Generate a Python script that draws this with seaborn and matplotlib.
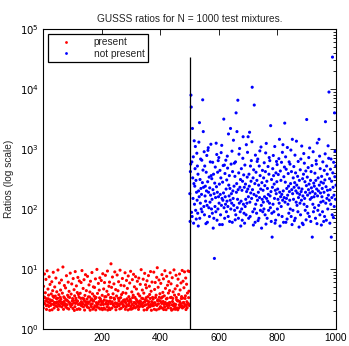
import numpy as np
import pandas as pd
import matplotlib
matplotlib.use("Agg")
import matplotlib.pyplot as plt
import seaborn as sns
from matplotlib.ticker import FixedLocator, LogLocator, NullFormatter, FixedFormatter
from matplotlib.lines import Line2D

# ---------------- data ----------------
present_ratios = [
    2.23, 5.14, 2.67, 3.41, 8.25, 2.64, 3.31, 4.02, 2.93, 6.71, 2.45, 2.12, 3.18, 9.34, 2.52, 2.86, 4.63, 3.19, 3.67, 2.38, 7.42, 2.74, 2.05, 5.53, 3.06,
    2.47, 2.96, 3.84, 2.61, 6.13, 2.09, 2.97, 4.35, 3.53, 8.81, 2.56, 3.37, 2.24, 2.78, 5.02, 2.74, 3.54, 2.43, 7.06, 2.68, 3.21, 4.17, 2.83, 2.36, 3.25,
    9.62, 2.11, 2.58, 3.73, 2.87, 5.86, 2.41, 2.95, 3.38, 4.46, 3.14, 2.66, 6.54, 2.34, 2.78, 3.96, 2.72, 10.8, 2.51, 2.13, 3.43, 2.87, 5.31, 3.26, 2.49,
    2.63, 4.84, 2.32, 3.06, 7.73, 3.03, 2.54, 2.22, 3.65, 2.91, 6.04, 3.44, 2.15, 4.24, 2.76, 3.36, 2.58, 8.53, 2.62, 2.37, 3.82, 2.60, 5.64, 2.55, 2.94,
    3.22, 2.20, 6.93, 2.96, 2.73, 4.52, 2.04, 3.57, 2.35, 9.05, 2.67, 3.25, 3.04, 5.23, 2.84, 2.12, 4.05, 2.92, 7.24, 2.57, 3.76, 2.17, 3.39, 6.32, 2.65,
    2.13, 3.94, 2.53, 3.24, 5.95, 2.85, 2.43, 9.42, 2.69, 3.26, 2.64, 4.74, 2.34, 3.19, 6.63, 2.96, 2.07, 3.63, 2.52, 8.04, 2.83, 2.77, 4.36, 2.46, 3.15,
    2.32, 7.54, 2.81, 2.67, 3.44, 2.25, 5.43, 2.82, 3.41, 4.14, 2.06, 6.25, 2.55, 3.03, 2.36, 3.18, 8.73, 2.63, 3.85, 2.14, 2.97, 5.04, 2.92, 2.27, 3.53,
    4.93, 2.44, 3.22, 6.84, 2.08, 3.35, 2.75, 2.33, 9.84, 2.54, 3.92, 2.62, 2.66, 5.75, 2.26, 2.86, 4.45, 3.31, 7.13, 2.15, 3.16, 2.53, 2.92, 6.43, 2.21,
    2.74, 3.64, 2.10, 8.34, 2.87, 2.56, 4.65, 2.24, 3.05, 5.94, 3.45, 2.14, 7.84, 2.62, 3.45, 2.70, 2.94, 4.25, 2.35, 9.24, 2.07, 2.57, 3.74, 2.85, 5.15,
    2.25, 6.05, 2.93, 2.11, 3.34, 2.65, 12.2, 3.32, 4.94, 2.23, 2.84, 7.35, 2.63, 3.86, 2.54, 2.44, 5.65, 3.27, 3.13, 8.94, 2.34, 2.73, 4.54, 2.09, 2.64,
    3.55, 2.35, 7.94, 2.65, 2.55, 4.34, 3.24, 6.14, 2.93, 2.45, 3.24, 2.16, 9.55, 2.65, 3.33, 5.35, 2.21, 3.75, 2.83, 2.72, 6.95, 2.56, 4.04, 2.36, 3.02,
    2.44, 5.25, 2.86, 3.06, 8.65, 2.13, 2.75, 3.95, 2.34, 6.45, 2.53, 3.19, 4.75, 2.95, 2.08, 7.65, 2.46, 3.46, 2.66, 2.93, 5.84, 2.15, 3.14, 9.15, 2.37,
    2.86, 2.14, 4.15, 2.57, 6.65, 3.34, 2.22, 3.66, 8.15, 2.44, 2.76, 5.05, 2.76, 3.36, 2.25, 7.45, 2.64, 3.12, 4.64, 2.35, 2.96, 6.24, 2.43, 2.81, 3.84,
    2.12, 7.05, 2.66, 2.34, 3.56, 2.94, 5.55, 2.84, 2.45, 9.75, 2.61, 3.26, 2.55, 4.46, 2.36, 3.20, 6.76, 2.76, 3.96, 2.07, 2.46, 8.46, 2.85, 3.06, 5.46,
    2.54, 3.32, 4.86, 2.10, 6.36, 2.96, 2.24, 3.46, 2.64, 7.76, 2.46, 2.84, 5.16, 3.76, 2.34, 3.23, 9.06, 2.56, 4.26, 2.05, 2.86, 6.06, 2.44, 3.36, 2.66,
    3.16, 2.45, 8.86, 2.72, 2.13, 4.56, 2.74, 5.96, 3.35, 2.55, 3.66, 2.08, 7.26, 2.47, 10.5, 2.96, 3.07, 4.96, 2.63, 2.16, 6.56, 3.37, 2.97, 3.87, 2.24,
    2.36, 5.76, 2.84, 3.27, 2.67, 8.06, 2.23, 3.43, 4.07, 2.87, 6.86, 2.11, 2.57, 3.57, 2.33, 9.36, 2.77, 4.76, 2.64, 2.10, 3.17, 7.56, 2.46, 3.25, 5.36,
    2.65, 2.26, 3.97, 6.16, 2.72, 2.47, 4.37, 2.76, 8.66, 3.34, 2.21, 5.66, 3.37, 2.06, 2.54, 7.16, 2.87, 3.23, 4.16, 2.45, 2.15, 9.66, 2.63, 3.67, 2.36,
    4.66, 2.13, 2.56, 7.86, 3.35, 3.07, 2.24, 5.26, 2.94, 2.09, 6.77, 2.95, 3.77, 2.25, 2.53, 8.26, 2.86, 4.47, 2.37, 2.66, 5.86, 3.22, 3.47, 2.45, 9.46,
    2.24, 3.27, 6.26, 2.74, 2.77, 4.87, 2.35, 8.96, 2.56, 3.23, 3.57, 7.07, 2.11, 2.46, 5.57, 2.85, 2.26, 3.97, 2.65, 9.26, 2.64, 3.33, 4.27, 2.47, 9.06,
]

not_present_ratios = [
    180, 62, 420, 560, 7900, 5000, 88, 610, 75, 2200, 330, 150, 740, 58, 265, 1370, 120, 240, 470, 1100, 95, 300, 68, 190, 850,
    140, 520, 85, 380, 52, 200, 1300, 160, 2750, 70, 310, 125, 680, 220, 100, 175, 650, 90, 275, 6600, 445, 1950, 230, 110, 900,
    80, 520, 165, 240, 135, 57, 410, 200, 780, 115, 60, 285, 950, 1050, 190, 105, 340, 75, 225, 130, 610, 170, 1200, 360, 100,
    320, 145, 85, 600, 210, 48, 380, 70, 180, 15, 270, 110, 500, 155, 90, 1250, 235, 810, 65, 190, 410, 100, 640, 160, 720,
    125, 260, 55, 440, 175, 80, 330, 870, 115, 1150, 150, 55, 280, 140, 530, 185, 3150, 105, 540, 70, 390, 160, 120, 650, 215,
    90, 305, 135, 760, 480, 110, 75, 1780, 250, 165, 360, 62, 220, 140, 2200, 100, 560, 180, 125, 920, 60, 420, 200, 150, 1400,
    115, 240, 580, 95, 350, 66, 610, 80, 4000, 190, 265, 1950, 105, 145, 6500, 210, 70, 400, 820, 125, 1020, 230, 90, 310, 52,
    135, 470, 100, 205, 65, 290, 700, 1600, 120, 370, 85, 230, 58, 540, 110, 260, 145, 80, 1180, 195, 125, 340, 880, 215, 1600,
    160, 70, 380, 240, 1900, 130, 75, 520, 185, 290, 640, 150, 1320, 10700, 210, 90, 330, 54, 450, 175, 5400, 100, 265, 60, 790,
    120, 410, 165, 85, 300, 620, 140, 680, 64, 190, 250, 70, 520, 155, 930, 360, 95, 215, 1080, 115, 48, 275, 145, 440, 90,
    205, 130, 330, 100, 590, 160, 245, 80, 420, 860, 56, 1240, 150, 290, 70, 220, 135, 510, 175, 95, 380, 720, 125, 640, 165,
    105, 2450, 195, 62, 310, 85, 34, 230, 470, 120, 780, 360, 90, 260, 150, 1100, 58, 205, 65, 400, 180, 620, 285, 550, 100,
    215, 145, 375, 80, 690, 125, 1450, 190, 52, 430, 160, 300, 110, 600, 175, 75, 880, 140, 1180, 200, 60, 345, 155, 500, 2700,
    130, 280, 740, 60, 460, 150, 220, 68, 1060, 170, 120, 390, 240, 85, 610, 195, 140, 560, 100, 265, 960, 75, 420, 210, 55,
    1450, 180, 95, 330, 145, 510, 230, 64, 275, 790, 70, 400, 200, 130, 1350, 250, 115, 185, 350, 90, 620, 155, 225, 50, 300,
    175, 125, 450, 80, 680, 195, 140, 1120, 215, 58, 320, 165, 55, 380, 840, 120, 580, 150, 285, 95, 190, 430, 66, 245, 3100,
    110, 340, 170, 85, 490, 210, 720, 260, 75, 1040, 185, 145, 300, 62, 420, 225, 155, 530, 34, 195, 120, 900, 90, 270, 160,
    240, 105, 395, 180, 70, 300, 640, 560, 215, 57, 1260, 165, 95, 330, 200, 115, 1450, 250, 760, 80, 470, 185, 130, 280, 54,
    350, 160, 220, 90, 610, 135, 270, 62, 190, 440, 75, 305, 830, 2850, 125, 235, 65, 520, 150, 380, 205, 100, 1130, 170, 700,
    8900, 140, 320, 58, 210, 460, 120, 680, 34, 290, 155, 80, 34000, 400, 230, 72, 600, 170, 110, 4000, 345, 920, 145, 520, 250,
]

labels = ["present", "not present"]
x_ticks = [200, 400, 600, 800, 1000]
y_decades = [0, 1, 2, 3, 4, 5]

# ---------------- build table ----------------
n_p = len(present_ratios)
n_n = len(not_present_ratios)
df = pd.DataFrame({
    "mixture": np.concatenate([np.arange(1, n_p + 1), np.arange(n_p + 1, n_p + n_n + 1)]),
    "ratio": present_ratios + not_present_ratios,
    "group": [labels[0]] * n_p + [labels[1]] * n_n,
})

# ---------------- plot ----------------
sns.set_style("white")
plt.rcParams["font.family"] = ["Liberation Sans", "DejaVu Sans"]
FS = 7.3

fig = plt.figure(figsize=(3.49, 3.46), dpi=100)
ax = fig.add_axes([43 / 349, 17 / 346, 293 / 349, 300 / 346])

sns.scatterplot(data=df, x="mixture", y="ratio", hue="group",
                palette={labels[0]: "#ff0000", labels[1]: "#0000ff"},
                marker="o", s=5, linewidth=0, ax=ax, legend=False)

ax.set_yscale("log")
ax.set_ylim(1, 1e5)
ax.set_xlim(0, 1000)

ax.vlines(n_p, 1, max(not_present_ratios), color="black", lw=0.9)

ax.xaxis.set_major_locator(FixedLocator(x_ticks))
ax.set_xticklabels([str(t) for t in x_ticks], fontsize=FS)
ax.yaxis.set_major_locator(FixedLocator([10.0 ** d for d in y_decades]))
ax.yaxis.set_major_formatter(FixedFormatter([r"$10^{%d}$" % d for d in y_decades]))
ax.yaxis.set_minor_locator(LogLocator(base=10, subs=np.arange(2, 10), numticks=20))
ax.yaxis.set_minor_formatter(NullFormatter())
for lab in ax.get_yticklabels():
    lab.set_fontsize(FS)

ax.tick_params(which="both", direction="in", top=True, right=True, colors="black",
               labelsize=FS, width=0.6)
ax.tick_params(which="major", length=4, pad=3)
ax.tick_params(which="minor", length=2)

for sp in ax.spines.values():
    sp.set_color("black")
    sp.set_linewidth(0.8)

ax.set_xlabel("")
ax.set_ylabel("Ratios (log scale)", fontsize=FS, labelpad=4)
ax.set_title("GUSSS ratios for N = 1000 test mixtures.", fontsize=FS, pad=5)

handles = [Line2D([], [], ls="none", marker="o", ms=2, mew=0, color="#ff0000"),
           Line2D([], [], ls="none", marker="o", ms=2, mew=0, color="#0000ff")]
leg = ax.legend(handles, labels, loc="upper left", fontsize=FS, frameon=True,
                fancybox=False, edgecolor="black", framealpha=1,
                borderaxespad=0.5, handlelength=3.0, handletextpad=1.2,
                borderpad=0.3, labelspacing=0.15)
leg.get_frame().set_linewidth(0.9)

fig.savefig("out.png", dpi=100)
